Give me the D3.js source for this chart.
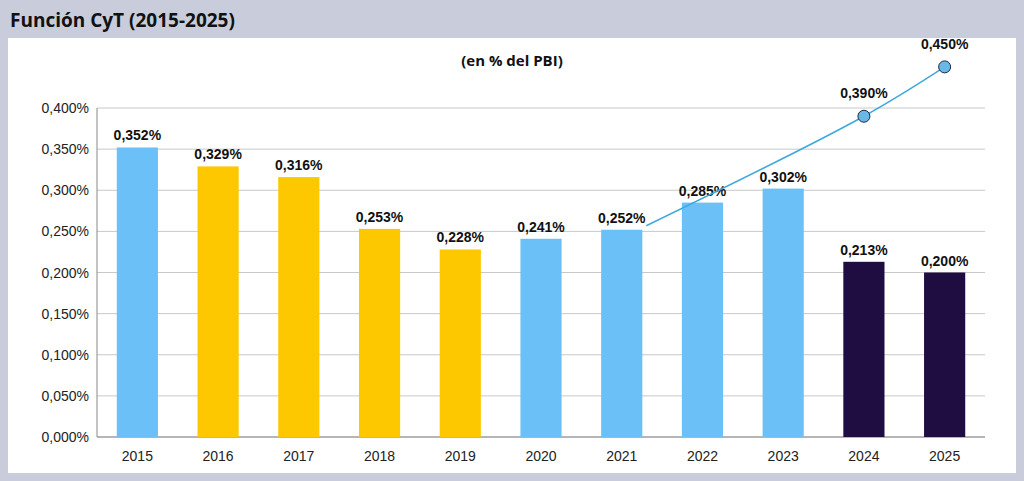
<!DOCTYPE html>
<html><head><meta charset="utf-8">
<script src="https://cdn.jsdelivr.net/npm/d3@7"></script>
<style>body{margin:0;background:#c8ccdb;}svg{display:block;}</style>
</head><body>
<svg id="chart" width="1024" height="481"></svg>
<script>
var years = ['2015','2016','2017','2018','2019','2020','2021','2022','2023','2024','2025'];
var values = [0.352,0.329,0.316,0.253,0.228,0.241,0.252,0.285,0.302,0.213,0.200];
var colors = ['#6cc0f8','#fdc800','#fdc800','#fdc800','#fdc800','#6cc0f8','#6cc0f8','#6cc0f8','#6cc0f8','#1f0c40','#1f0c40'];
var lineYears = ['2021','2024','2025'];
var lineValues = [0.252,0.390,0.450];
var yTicks = [0,0.05,0.1,0.15,0.2,0.25,0.3,0.35,0.4];

(function() {
var fmt = function(v, d) { return v.toFixed(d).replace('.', ',') + '%'; };
var svg = d3.select('#chart');

svg.append('text').attr('x', 10).attr('y', 27)
  .attr('font-family', 'Open Sans, sans-serif').attr('font-weight', 'bold')
  .attr('font-size', 19).attr('fill', '#111').text('Función CyT (2015-2025)');
svg.append('rect').attr('x', 8).attr('y', 38).attr('width', 1008).attr('height', 435).attr('fill', '#fff');
svg.append('text').attr('x', 512).attr('y', 66).attr('text-anchor', 'middle')
  .attr('font-family', 'Open Sans, sans-serif').attr('font-weight', 'bold')
  .attr('font-size', 15).attr('fill', '#111').text('(en % del PBI)');

var mLeft = 97, mRight = 985, mTop = 108, mBottom = 437;
var x = d3.scaleBand().domain(years).range([mLeft, mRight]).paddingInner(0.49).paddingOuter(0.245);
var y = d3.scaleLinear().domain([0, 0.4]).range([mBottom, mTop]);

var g = svg.append('g').attr('font-family', 'Liberation Sans, Arial, sans-serif');

// grid
g.selectAll('line.grid').data(yTicks).enter().append('line')
  .attr('x1', mLeft).attr('x2', mRight)
  .attr('y1', function(d) { return y(d); }).attr('y2', function(d) { return y(d); })
  .attr('stroke', '#c8c8c8').attr('stroke-width', 1);

// y axis labels
g.selectAll('text.ytick').data(yTicks).enter().append('text')
  .attr('x', mLeft - 8).attr('y', function(d) { return y(d) + 5; })
  .attr('text-anchor', 'end').attr('font-size', 14).attr('fill', '#222')
  .text(function(d) { return fmt(d, 3); });
g.append('line').attr('x1', mLeft).attr('x2', mLeft).attr('y1', mTop).attr('y2', mBottom).attr('stroke', '#888');
g.append('line').attr('x1', mLeft).attr('x2', mRight).attr('y1', mBottom).attr('y2', mBottom).attr('stroke', '#888');

// bars
g.selectAll('rect.bar').data(values).enter().append('rect')
  .attr('x', function(d, i) { return x(years[i]); })
  .attr('y', function(d) { return y(d); })
  .attr('width', x.bandwidth())
  .attr('height', function(d) { return mBottom - y(d); })
  .attr('fill', function(d, i) { return colors[i]; });

g.selectAll('text.val').data(values).enter().append('text')
  .attr('x', function(d, i) { return x(years[i]) + x.bandwidth() / 2; })
  .attr('y', function(d) { return y(d) - 7; })
  .attr('text-anchor', 'middle').attr('font-size', 14).attr('font-weight', 'bold').attr('fill', '#111')
  .text(function(d) { return fmt(d, 3); });

g.selectAll('text.xtick').data(years).enter().append('text')
  .attr('x', function(d) { return x(d) + x.bandwidth() / 2; })
  .attr('y', mBottom + 24).attr('text-anchor', 'middle').attr('font-size', 14).attr('fill', '#222')
  .text(function(d) { return d; });

// projection line
var cx = function(d, i) { return x(lineYears[i]) + x.bandwidth() / 2; };
var line = d3.line().curve(d3.curveCatmullRom)
  .x(function(d, i) { return i === 0 ? cx(d, i) + x.bandwidth() / 2 + 4 : cx(d, i); })
  .y(function(d, i) { return i === 0 ? y(d) - 4 : y(d); });
g.append('path').datum(lineValues).attr('d', line)
  .attr('fill', 'none').attr('stroke', '#3fa8dc').attr('stroke-width', 1.5);

var pts = lineValues.slice(1);
g.selectAll('circle.pt').data(pts).enter().append('circle')
  .attr('cx', function(d, i) { return cx(d, i + 1); })
  .attr('cy', function(d) { return y(d); })
  .attr('r', 6).attr('fill', '#6ab8e8').attr('stroke', '#1a2a40').attr('stroke-width', 1);
g.selectAll('text.pt').data(pts).enter().append('text')
  .attr('x', function(d, i) { return cx(d, i + 1); })
  .attr('y', function(d) { return y(d) - 18; })
  .attr('text-anchor', 'middle').attr('font-size', 14).attr('font-weight', 'bold').attr('fill', '#111')
  .text(function(d) { return fmt(d, 3); });
})();
</script>
</body></html>
